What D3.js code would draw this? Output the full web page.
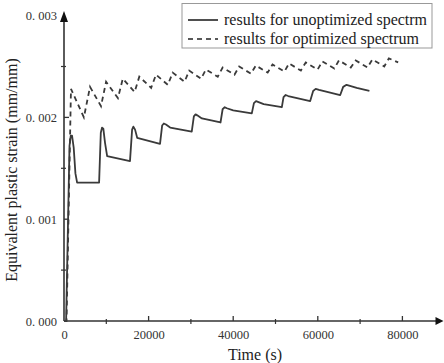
<!DOCTYPE html>
<html><head><meta charset="utf-8">
<script src="https://cdn.jsdelivr.net/npm/d3@7"></script>
<style>body{margin:0;background:#fff}svg{display:block}text{font-family:"Liberation Serif","Times New Roman",serif;fill:#222}</style>
</head><body><svg id="c" width="444" height="363"></svg>
<script>
// ---- data ----
const seriesNames = ["results for unoptimized spectrm", "results for optimized spectrum"];
const xTicks = [0, 20000, 40000, 60000, 80000];
const xTickLabels = ["0", "20000", "40000", "60000", "80000"];
const yTicks = [0, 0.001, 0.002, 0.003];
const yTickLabels = ["0. 000", "0. 001", "0. 002", "0. 003"];
// unoptimized spectrum: time (s)
const unoptT = [0,500,1300,1600,1900,2300,2700,3100,8300,8700,9000,9300,9700,10200,15600,16100,16400,16800,17300,22700,23200,23600,24100,25100,30200,30700,31100,31500,32600,37000,37500,38000,38500,40000,44400,44900,45400,46000,47200,51500,51900,52400,53000,58200,58900,59500,60300,65300,66000,66800,67600,69200,72200];
const unoptS = [0,0,0.00172,0.00182,0.00182,0.00170,0.00145,0.00136,0.00136,0.00185,0.00190,0.00189,0.00175,0.00162,0.00157,0.00188,0.00191,0.00188,0.00180,0.00174,0.00192,0.00194,0.00193,0.00190,0.00186,0.00201,0.00203,0.00202,0.00199,0.00195,0.00208,0.00210,0.00209,0.00207,0.00204,0.00214,0.00216,0.00215,0.00213,0.00210,0.00220,0.00222,0.00221,0.00216,0.00226,0.00228,0.00227,0.00222,0.00230,0.00232,0.00231,0.00229,0.00226];
// optimized spectrum
const optT = [0,600,1650,4700,6150,8750,9950,12750,13900,16700,17800,20600,21750,24550,25700,28500,29600,32400,33550,36350,37500,40300,41400,44200,45350,48150,49300,52100,53200,56000,57150,59950,61100,63900,65000,67800,68950,71750,72900,75700,76800,79000];
const optS = [0,0,0.00228,0.00200,0.00230,0.00211,0.00235,0.00219,0.00238,0.00225,0.00240,0.00229,0.00242,0.00232,0.00244,0.00235,0.00246,0.00238,0.00247,0.00240,0.00249,0.00242,0.00250,0.00243,0.00251,0.00244,0.00252,0.00245,0.00253,0.00246,0.00254,0.00247,0.00255,0.00248,0.00256,0.00249,0.00256,0.00249,0.00257,0.00250,0.00258,0.00254];

// ---- drawing ----
const svg = d3.select("#c");
const x = d3.scaleLinear().domain([0, 80000]).range([64, 402.4]);
const y = d3.scaleLinear().domain([0, 0.003]).range([321, 15.6]);
const axisColor = "#333";

// minor ticks
const xMinor = [10000, 30000, 50000, 70000];
const yMinor = [0.0005, 0.0015, 0.0025];

// x axis
const gx = svg.append("g").attr("transform", "translate(0,321)")
  .call(d3.axisBottom(x).tickValues(xTicks).tickFormat((d,i)=>xTickLabels[i]).tickSize(0).tickPadding(9));
gx.select(".domain").remove();
gx.selectAll("text").attr("font-size", "12.5px").attr("font-family", "Liberation Serif").style("fill", "#333");
svg.append("line").attr("x1", 64).attr("x2", 437).attr("y1", 321).attr("y2", 321).attr("stroke", axisColor).attr("stroke-width", 1.6);
svg.append("path").attr("d", "M443.5,321 L435.5,317 L435.5,325 Z").attr("fill", "#111");
svg.selectAll(".xmaj").data(xTicks.slice(1)).join("line").attr("x1", d=>x(d)).attr("x2", d=>x(d)).attr("y1", 321).attr("y2", 316).attr("stroke", axisColor).attr("stroke-width", 1.3);
svg.selectAll(".xmin").data(xMinor).join("line").attr("x1", d=>x(d)).attr("x2", d=>x(d)).attr("y1", 319).attr("y2", 324).attr("stroke", axisColor).attr("stroke-width", 1.2);

// y axis
const gy = svg.append("g").attr("transform", "translate(64,0)")
  .call(d3.axisLeft(y).tickValues(yTicks).tickFormat((d,i)=>yTickLabels[i]).tickSize(0).tickPadding(7));
gy.select(".domain").remove();
gy.selectAll("text").attr("font-size", "12.5px").attr("font-family", "Liberation Serif").style("fill", "#333");
svg.append("line").attr("x1", 64).attr("x2", 64).attr("y1", 321).attr("y2", 20).attr("stroke", axisColor).attr("stroke-width", 1.6);
svg.append("path").attr("d", "M64,11 L60,22 L68,22 Z").attr("fill", "#111");
svg.selectAll(".ymaj").data(yTicks.slice(1,3)).join("line").attr("x1", 64).attr("x2", 69).attr("y1", d=>y(d)).attr("y2", d=>y(d)).attr("stroke", axisColor).attr("stroke-width", 1.3);
svg.selectAll(".ymin").data(yMinor).join("line").attr("x1", 61).attr("x2", 66).attr("y1", d=>y(d)).attr("y2", d=>y(d)).attr("stroke", axisColor).attr("stroke-width", 1.2);

// axis titles
svg.append("text").attr("x", 255).attr("y", 360).attr("text-anchor", "middle").attr("font-size", "16px").text("Time (s)");
svg.append("text").attr("transform", "translate(17,170) rotate(-90)").attr("text-anchor", "middle").attr("font-size", "16px").text("Equivalent plastic strain (mm/mm)");

// series
const line = d3.line().x(d=>x(d[0])).y(d=>y(d[1]));
const unopt = unoptT.map((t,i)=>[t, unoptS[i]]);
const opt = optT.map((t,i)=>[t, optS[i]]);
svg.append("path").datum(unopt).attr("d", line).attr("fill", "none").attr("stroke", "#3a3a3a").attr("stroke-width", 1.8).attr("stroke-linejoin", "round");
svg.append("path").datum(opt).attr("d", line).attr("fill", "none").attr("stroke", "#3a3a3a").attr("stroke-width", 1.8).attr("stroke-dasharray", "5,4");

// legend
svg.append("rect").attr("x", 182).attr("y", 3.5).attr("width", 250).attr("height", 44.5).attr("fill", "#fff").attr("stroke", "#999").attr("stroke-width", 1);
const leg = svg.selectAll(".leg").data(seriesNames).join("g").attr("transform", (d,i)=>`translate(188,${20 + i*19})`);
leg.append("line").attr("x1", 0).attr("x2", 30).attr("y1", 0).attr("y2", 0).attr("stroke", "#222").attr("stroke-width", 1.6).attr("stroke-dasharray", (d,i)=> i ? "5,4" : null);
leg.append("text").attr("x", 36).attr("y", 5).attr("font-size", "16px").text(d=>d);
</script></body></html>
